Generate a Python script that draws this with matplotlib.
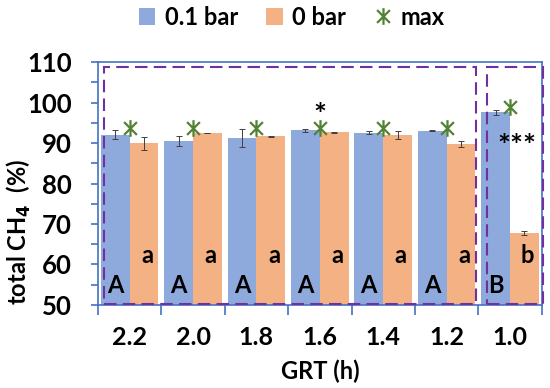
import numpy as np
import matplotlib
matplotlib.use('Agg')
import matplotlib.pyplot as plt
from matplotlib.path import Path
from matplotlib.patches import Rectangle

plt.rcParams['font.family'] = ['Lato', 'DejaVu Sans']
plt.rcParams['font.weight'] = 'bold'

# data
grt = ['2.2', '2.0', '1.8', '1.6', '1.4', '1.2', '1.0']
ch4_01bar = [92.1, 90.5, 91.2, 93.1, 92.6, 93.0, 97.6]
err_01bar = [1.0, 1.3, 2.3, 0.3, 0.4, 0.1, 0.6]
ch4_0bar = [89.9, 92.5, 91.7, 92.7, 91.9, 89.7, 67.7]
err_0bar = [1.7, 0.1, 0.1, 0.1, 1.0, 0.8, 0.5]
ch4_max = [93.8, 93.8, 93.7, 93.7, 93.8, 93.8, 99.0]
letters_01 = ['A', 'A', 'A', 'A', 'A', 'A', 'B']
letters_0 = ['a', 'a', 'a', 'a', 'a', 'a', 'b']
signif = {3: ('*', 96.6), 6: ('***', 89.0)}

blue = '#8EA9DB'
orange = '#F4B183'
green = '#548235'
purple = '#7030A0'
axblue = '#4472C4'

# excel-like star marker: x with a vertical stroke
star = Path([(-1, -1), (1, 1), (-1, 1), (1, -1), (0, -1.3), (0, 1.3)],
            [Path.MOVETO, Path.LINETO, Path.MOVETO, Path.LINETO, Path.MOVETO, Path.LINETO])

fig = plt.figure(figsize=(5.5, 3.88), dpi=100)
ax = fig.add_axes([0.178, 0.214, 0.807, 0.626])

x = np.arange(len(grt))
w = 0.455
b1 = ax.bar(x - w/2, ch4_01bar, w, color=blue, label='0.1 bar', zorder=2)
b2 = ax.bar(x + w/2, ch4_0bar, w, color=orange, label='0 bar', zorder=2)
ax.errorbar(x - w/2, ch4_01bar, yerr=err_01bar, fmt='none', ecolor='#404040',
            elinewidth=0.7, capsize=2.5, capthick=0.7, zorder=3)
ax.errorbar(x + w/2, ch4_0bar, yerr=err_0bar, fmt='none', ecolor='#404040',
            elinewidth=0.7, capsize=2.5, capthick=0.7, zorder=3)
mx, = ax.plot(x, ch4_max, linestyle='none', marker=star, markersize=12,
              markeredgewidth=1.6, color=green, label='max', zorder=4)

for i in x:
    ax.text(i - w/2, 54.8, letters_01[i], ha='center', va='center', fontsize=17,
            fontweight='bold', zorder=5)
    ax.text(i + w/2 + 0.05, 62.2, letters_0[i], ha='center', va='center', fontsize=17,
            fontweight='bold', zorder=5)
for i, (s, yv) in signif.items():
    ax.text(i + 0.11 if len(s) > 1 else i, yv, s, ha='center', va='center',
            fontsize=22, fontweight='bold', zorder=5)

# dashed group frames
ax.add_patch(Rectangle((-0.405, 50.2), 5.865, 58.5, fill=False, edgecolor=purple,
                       linestyle=(0, (6, 3)), linewidth=1.5, zorder=6, clip_on=False))
ax.add_patch(Rectangle((5.636, 50.2), 0.88, 58.5, fill=False, edgecolor=purple,
                       linestyle=(0, (6, 3)), linewidth=1.5, zorder=6, clip_on=False))

ax.set_xlim(-0.5, 6.5)
ax.set_ylim(50, 110)
ax.set_yticks(np.arange(50, 111, 10))
ax.set_yticks(np.arange(55, 110, 10), minor=True)
ax.set_xticks(np.arange(-0.5, 7, 1))
ax.set_xticklabels([])
ax.set_xticks(x, minor=True)
ax.set_xticklabels(grt, minor=True)
ax.tick_params(axis='x', which='major', length=7, color=axblue, width=1.2)
ax.tick_params(axis='x', which='minor', length=0, pad=15, labelsize=18)
ax.tick_params(axis='y', which='both', length=5, color=axblue, width=1.2,
               labelsize=18.5, pad=14)
for sp in ax.spines.values():
    sp.set_color(axblue)
    sp.set_linewidth(1.2)

ax.set_ylabel('total CH$_4$  (%)', fontsize=17, fontweight='bold')
ax.yaxis.set_label_coords(-0.146, 0.30)
ax.set_xlabel('GRT (h)', fontsize=17, fontweight='bold', labelpad=8)

fig.legend(handles=[b1, b2, mx], loc='upper center', bbox_to_anchor=(0.53, 1.04),
           ncol=3, frameon=False, fontsize=17, handlelength=0.7, handletextpad=0.4,
           columnspacing=1.2, markerscale=1.0)

fig.savefig('out.png', dpi=100)
